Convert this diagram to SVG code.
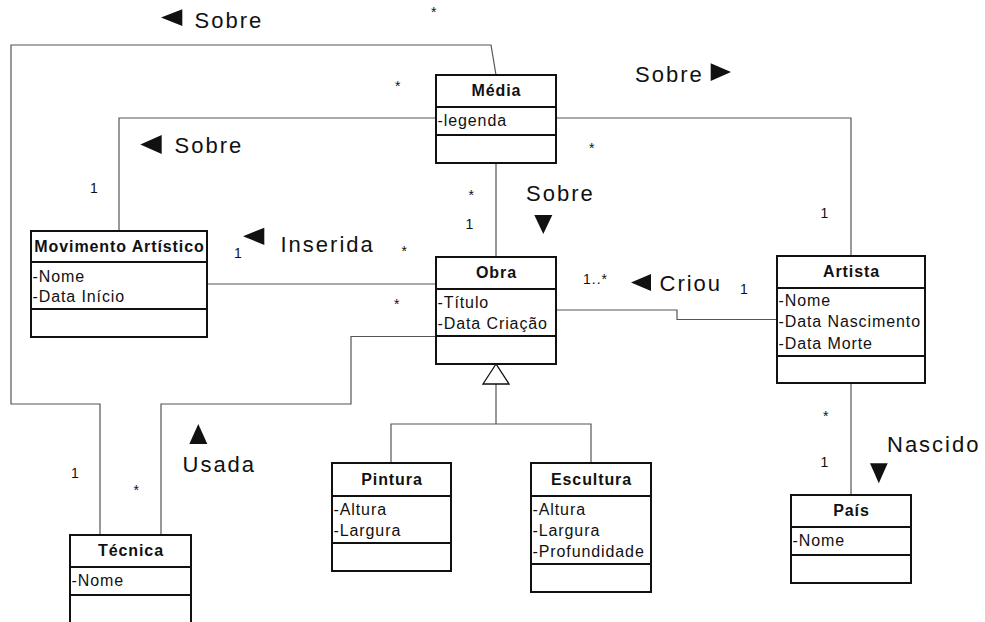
<svg xmlns="http://www.w3.org/2000/svg" width="985" height="622" viewBox="0 0 985 622">
<style>
.box{fill:#fff;stroke:#111;stroke-width:2}
.div{stroke:#111;stroke-width:2}
.con{fill:none;stroke:#555;stroke-width:1.2}
.hd{font-family:"Liberation Sans",Arial,sans-serif;font-size:16px;font-weight:bold;letter-spacing:0.9px;text-anchor:middle;fill:#111}
.at{font-family:"Liberation Sans",Arial,sans-serif;font-size:16px;letter-spacing:0.9px;fill:#111}
.lb{font-family:"Liberation Sans",Arial,sans-serif;font-size:22px;letter-spacing:2px;fill:#111}
.m{font-family:"Liberation Sans",Arial,sans-serif;font-size:14px;letter-spacing:1px;fill:#111}
.tri{fill:#111}
</style>
<rect width="985" height="622" fill="#fff"/>
<g id="connectors">
<polyline class="con" points="496,75 491,45 11,45 11,404 100,404 100,535"/>
<polyline class="con" points="436,118 119,118 119,231"/>
<polyline class="con" points="496,163 496,257"/>
<polyline class="con" points="556,118 851,118 851,256"/>
<polyline class="con" points="207,284 436,284"/>
<polyline class="con" points="436,336.5 351,336.5 351,404 161,404 161,535"/>
<polyline class="con" points="556,310 677,310 677,319.5 777,319.5"/>
<polyline class="con" points="851,383 851,495"/>
<polyline class="con" points="496,384 496,424"/>
<polyline class="con" points="391,463 391,424 591,424 591,463"/>
<polygon points="496,364 483,384 509,384" fill="#fff" stroke="#111" stroke-width="1.3"/>
</g>
<g id="labels">
<polygon class="tri" points="161,17.6 182.3,9.3 182.3,26"/>
<text class="lb" x="194.5" y="27.7">Sobre</text>
<polygon class="tri" points="140.3,144.5 161.7,135 161.7,154"/>
<text class="lb" x="174.5" y="153.3">Sobre</text>
<text class="lb" x="635" y="81.7">Sobre</text>
<polygon class="tri" points="710.7,63.3 710.7,81 731,72"/>
<text class="lb" x="526" y="200.5">Sobre</text>
<polygon class="tri" points="534.3,215 552.3,215 543.3,234"/>
<polygon class="tri" points="243,236.3 264.3,227.7 264.3,245"/>
<text class="lb" x="280.5" y="252.3">Inserida</text>
<polygon class="tri" points="631,282.5 651,274 651,291"/>
<text class="lb" x="659.5" y="291">Criou</text>
<polygon class="tri" points="189.3,444 198.3,424 207.3,444"/>
<text class="lb" x="182.5" y="471.7">Usada</text>
<text class="lb" x="887" y="451.7">Nascido</text>
<polygon class="tri" points="870,463.3 887.7,463.3 878.8,483.3"/>
<text class="m" x="431" y="16.6">*</text>
<text class="m" x="395" y="90.6">*</text>
<text class="m" x="589" y="152.6">*</text>
<text class="m" x="468.5" y="200">*</text>
<text class="m" x="465.5" y="229">1</text>
<text class="m" x="401.5" y="256.3">*</text>
<text class="m" x="394" y="309.3">*</text>
<text class="m" x="583" y="284">1..*</text>
<text class="m" x="740" y="294">1</text>
<text class="m" x="820.5" y="217.7">1</text>
<text class="m" x="90" y="193.3">1</text>
<text class="m" x="234" y="258.3">1</text>
<text class="m" x="71" y="477.7">1</text>
<text class="m" x="133.5" y="494.6">*</text>
<text class="m" x="823" y="421">*</text>
<text class="m" x="820.5" y="466.7">1</text>
</g>
<g id="media">
<rect class="box" x="436" y="75" width="120" height="88"/>
<line class="div" x1="436" y1="107" x2="556" y2="107"/>
<line class="div" x1="436" y1="135" x2="556" y2="135"/>
<text class="hd" x="496.5" y="96">Média</text>
<text class="at" x="437.5" y="125.7">-legenda</text>
</g>
<g id="movimento">
<rect class="box" x="31" y="231" width="176" height="106"/>
<line class="div" x1="31" y1="262" x2="207" y2="262"/>
<line class="div" x1="31" y1="309" x2="207" y2="309"/>
<text class="hd" x="119.5" y="252">Movimento Artístico</text>
<text class="at" x="32.5" y="281.7">-Nome</text>
<text class="at" x="32.5" y="302">-Data Início</text>
</g>
<g id="obra">
<rect class="box" x="436" y="257" width="120" height="107"/>
<line class="div" x1="436" y1="289" x2="556" y2="289"/>
<line class="div" x1="436" y1="336" x2="556" y2="336"/>
<text class="hd" x="496.5" y="278">Obra</text>
<text class="at" x="437.5" y="307.5">-Título</text>
<text class="at" x="437.5" y="328.5">-Data Criação</text>
</g>
<g id="artista">
<rect class="box" x="777" y="256" width="148" height="127"/>
<line class="div" x1="777" y1="288" x2="925" y2="288"/>
<line class="div" x1="777" y1="356" x2="925" y2="356"/>
<text class="hd" x="851.5" y="277">Artista</text>
<text class="at" x="778.5" y="306">-Nome</text>
<text class="at" x="778.5" y="327.3">-Data Nascimento</text>
<text class="at" x="778.5" y="348.7">-Data Morte</text>
</g>
<g id="pais">
<rect class="box" x="791" y="495" width="120" height="88"/>
<line class="div" x1="791" y1="527" x2="911" y2="527"/>
<line class="div" x1="791" y1="555" x2="911" y2="555"/>
<text class="hd" x="851.5" y="516">País</text>
<text class="at" x="792.5" y="546">-Nome</text>
</g>
<g id="tecnica">
<rect class="box" x="70" y="535" width="121" height="88"/>
<line class="div" x1="70" y1="567" x2="191" y2="567"/>
<line class="div" x1="70" y1="595" x2="191" y2="595"/>
<text class="hd" x="131" y="556">Técnica</text>
<text class="at" x="71.5" y="586">-Nome</text>
</g>
<g id="pintura">
<rect class="box" x="332" y="463" width="119" height="108"/>
<line class="div" x1="332" y1="496" x2="451" y2="496"/>
<line class="div" x1="332" y1="543" x2="451" y2="543"/>
<text class="hd" x="392" y="485">Pintura</text>
<text class="at" x="333.5" y="514.5">-Altura</text>
<text class="at" x="333.5" y="535.5">-Largura</text>
</g>
<g id="escultura">
<rect class="box" x="531" y="463" width="120" height="129"/>
<line class="div" x1="531" y1="496" x2="651" y2="496"/>
<line class="div" x1="531" y1="564" x2="651" y2="564"/>
<text class="hd" x="591.5" y="485">Escultura</text>
<text class="at" x="532.5" y="514.5">-Altura</text>
<text class="at" x="532.5" y="535.5">-Largura</text>
<text class="at" x="532.5" y="556.5">-Profundidade</text>
</g>
</svg>
